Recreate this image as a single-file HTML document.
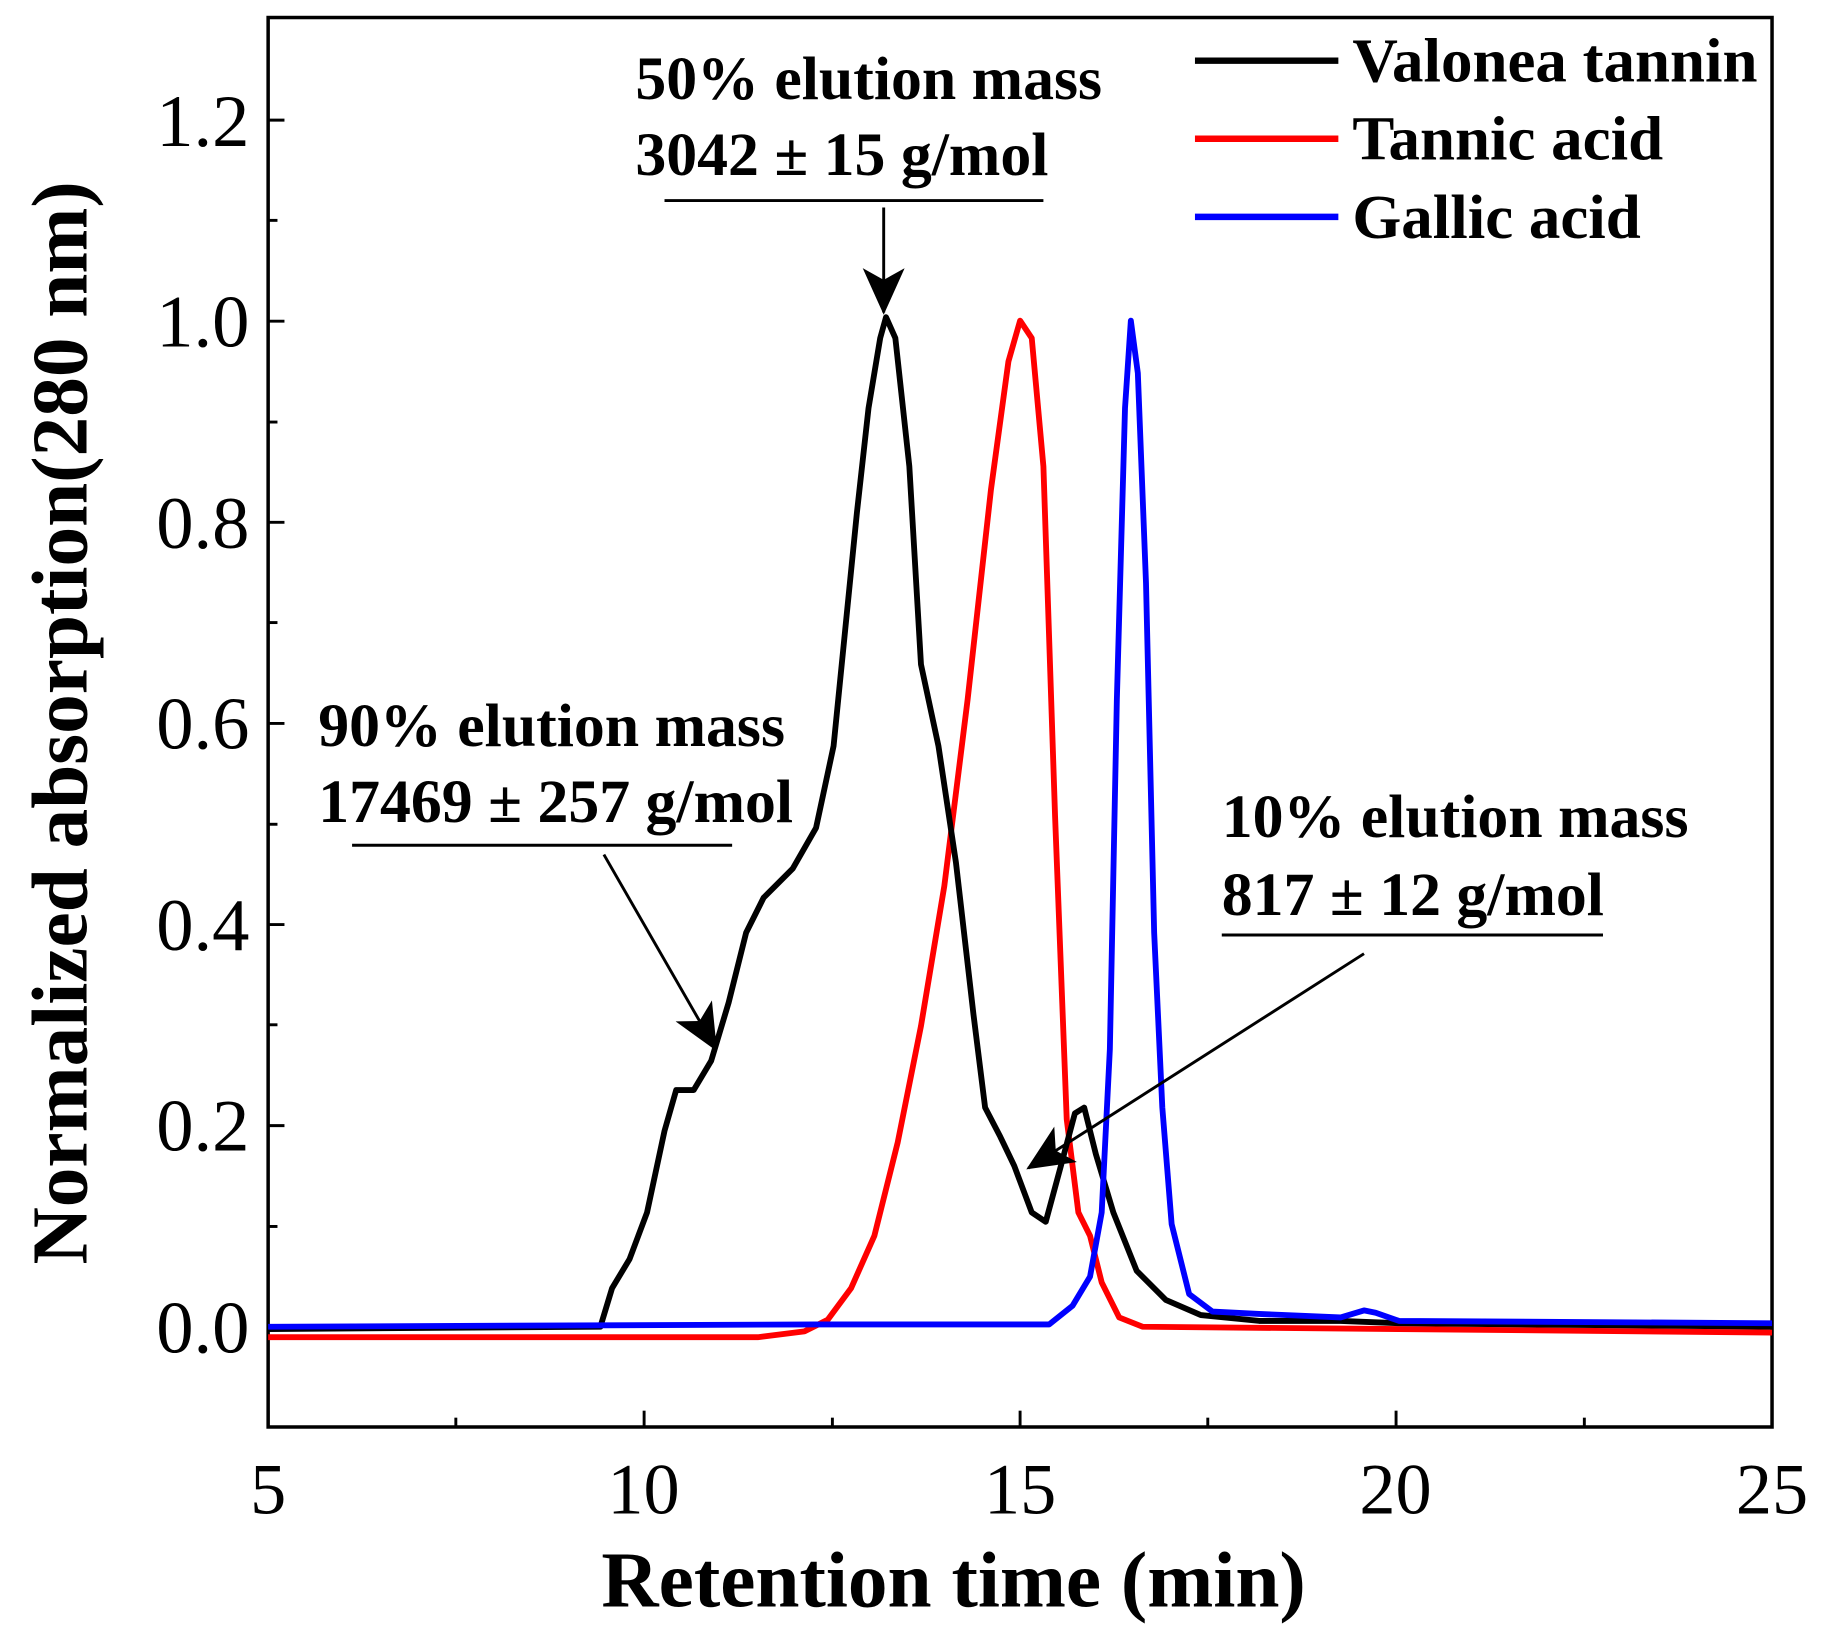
<!DOCTYPE html>
<html><head><meta charset="utf-8"><style>html,body{margin:0;padding:0;background:#fff}svg{display:block}</style></head>
<body>
<svg width="1828" height="1642" viewBox="0 0 1568 1408.4" xmlns="http://www.w3.org/2000/svg" font-family="'Liberation Serif', serif">
<defs><marker id="ah" markerWidth="40" markerHeight="36" refX="38" refY="18" orient="auto" markerUnits="userSpaceOnUse" viewBox="0 0 40 36"><path d="M0,0 L40,18 L0,36 L10,18 Z" fill="#000"/></marker></defs>
<rect x="230" y="15" width="1290" height="1209" fill="none" stroke="#000" stroke-width="3"/>
<g stroke="#000" stroke-width="2.5">
<line x1="230" y1="1224" x2="230" y2="1210"/><line x1="552.5" y1="1224" x2="552.5" y2="1210"/><line x1="875" y1="1224" x2="875" y2="1210"/><line x1="1197.5" y1="1224" x2="1197.5" y2="1210"/>
<line x1="391" y1="1224" x2="391" y2="1216"/><line x1="714" y1="1224" x2="714" y2="1216"/><line x1="1036" y1="1224" x2="1036" y2="1216"/><line x1="1359" y1="1224" x2="1359" y2="1216"/>
<line x1="230" y1="1138" x2="244" y2="1138"/><line x1="230" y1="965.5" x2="244" y2="965.5"/><line x1="230" y1="793" x2="244" y2="793"/><line x1="230" y1="620.5" x2="244" y2="620.5"/><line x1="230" y1="448" x2="244" y2="448"/><line x1="230" y1="275.5" x2="244" y2="275.5"/><line x1="230" y1="103" x2="244" y2="103"/>
<line x1="230" y1="1224" x2="238" y2="1224"/><line x1="230" y1="1052" x2="238" y2="1052"/><line x1="230" y1="879" x2="238" y2="879"/><line x1="230" y1="707" x2="238" y2="707"/><line x1="230" y1="534" x2="238" y2="534"/><line x1="230" y1="362" x2="238" y2="362"/><line x1="230" y1="189" x2="238" y2="189"/>
</g>
<g font-size="64" text-anchor="end">
<text x="214" y="1160">0.0</text><text x="214" y="987">0.2</text><text x="214" y="815">0.4</text><text x="214" y="642">0.6</text><text x="214" y="470">0.8</text><text x="214" y="297">1.0</text><text x="214" y="125">1.2</text>
</g>
<g font-size="62" text-anchor="middle">
<text x="230" y="1298">5</text><text x="552" y="1298">10</text><text x="875" y="1298">15</text><text x="1197" y="1298">20</text><text x="1520" y="1298">25</text>
</g>
<text x="818" y="1378" font-size="68" font-weight="bold" text-anchor="middle">Retention time (min)</text>
<text transform="translate(74,620) rotate(-90)" font-size="68" font-weight="bold" text-anchor="middle">Normalized absorption(280 nm)</text>
<g fill="none" stroke-width="5" stroke-linejoin="round">
<polyline stroke="#ff0000" points="230,1147 650,1147 690,1142 710,1132 730,1105 750,1060 770,980 790,880 810,760 830,600 850,420 865,310 875,275 885,290 895,400 905,700 915,960 925,1040 935,1060 945,1100 960,1130 980,1138 1200,1140 1520,1143"/>
<polyline stroke="#000" points="230,1140 515,1138 525,1105 540,1080 555,1040 570,970 580,935 595,935 610,910 625,860 640,800 655,770 680,745 700,710 715,640 725,540 735,440 745,350 755,290 760,272 768,290 780,400 790,570 805,640 820,740 835,870 845,950 858,975 870,1000 885,1040 897,1048 910,1000 922,955 930,950 940,990 955,1040 975,1090 1000,1115 1030,1128 1080,1133 1150,1133 1200,1135 1520,1138"/>
<polyline stroke="#0000ff" points="230,1138 700,1136 900,1136 920,1120 935,1095 945,1040 952,900 958,600 965,350 970,275 976,320 983,500 990,800 997,950 1005,1050 1020,1110 1040,1125 1080,1127 1150,1130 1170,1124 1180,1126 1200,1133 1520,1135"/>
</g>
<g font-size="53" font-weight="bold">
<text x="545" y="85">50% elution mass</text><text x="545" y="150">3042 ± 15 g/mol</text>
<text x="273" y="640">90% elution mass</text><text x="273" y="705">17469 ± 257 g/mol</text>
<text x="1048" y="718">10% elution mass</text><text x="1048" y="785">817 ± 12 g/mol</text>
</g>
<g stroke="#000" stroke-width="2.5">
<line x1="570" y1="172" x2="895" y2="172"/><line x1="302" y1="725" x2="628" y2="725"/><line x1="1048" y1="802" x2="1375" y2="802"/>
</g>
<g stroke="#000" stroke-width="2.5" marker-end="url(#ah)">
<line x1="758" y1="178" x2="758" y2="268"/>
<line x1="518" y1="733" x2="614" y2="900"/>
<line x1="1170" y1="818" x2="882" y2="1002"/>
</g>
<g stroke-width="5.5">
<line x1="1025" y1="52" x2="1148" y2="52" stroke="#000"/>
<line x1="1025" y1="119" x2="1148" y2="119" stroke="#ff0000"/>
<line x1="1025" y1="186" x2="1148" y2="186" stroke="#0000ff"/>
</g>
<g font-size="54" font-weight="bold">
<text x="1160" y="70">Valonea tannin</text><text x="1160" y="137">Tannic acid</text><text x="1160" y="204">Gallic acid</text>
</g>
</svg>
</body></html>
